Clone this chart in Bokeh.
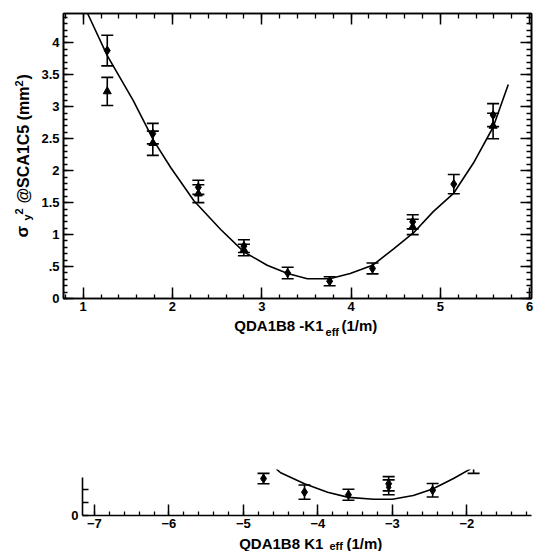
import math
from bokeh.plotting import figure
from bokeh.layouts import column, row
from bokeh.models import (LinearAxis, FixedTicker, SingleIntervalTicker,
                          Range1d, ColumnDataSource, Spacer)
from bokeh.core.properties import value
from bokeh.embed import file_html
from bokeh.resources import INLINE

# ---------------- data: upper panel (QDA1B8 -K1eff) ----------------
top_x_set1 = [1.27, 1.78, 2.29, 2.80, 3.29, 3.76, 4.24, 4.69, 5.15, 5.59]
top_y_set1 = [3.88, 2.58, 1.74, 0.82, 0.40, 0.27, 0.47, 1.20, 1.79, 2.87]
top_err_set1 = [0.24, 0.16, 0.11, 0.10, 0.09, 0.07, 0.085, 0.11, 0.15, 0.18]

top_x_set2 = [1.27, 1.78, 2.29, 2.80, 4.69, 5.59]
top_y_set2 = [3.24, 2.43, 1.64, 0.76, 1.12, 2.70]
top_err_set2 = [0.22, 0.19, 0.14, 0.09, 0.12, 0.20]

top_fit_x = [1.05, 1.27, 1.56, 1.79, 1.98, 2.24, 2.54, 2.80, 3.06, 3.29, 3.51,
             3.76, 3.99, 4.24, 4.48, 4.70, 4.92, 5.15, 5.37, 5.59, 5.76]
top_fit_y = [4.46, 3.80, 3.10, 2.47, 2.05, 1.53, 1.08, 0.73, 0.52, 0.39, 0.31,
             0.31, 0.39, 0.52, 0.78, 1.03, 1.36, 1.65, 2.12, 2.68, 3.35]

top_y_ticks = [0, 0.5, 1, 1.5, 2, 2.5, 3, 3.5, 4]
top_y_tick_labels = ["0", ".5", "1", "1.5", "2", "2.5", "3", "3.5", "4"]

# ---------------- data: lower panel (QDA1B8 K1eff) ----------------
bot_x_set1 = [-4.73, -4.18, -3.59, -3.05, -2.46, -1.91]
bot_y_set1 = [0.57, 0.36, 0.32, 0.49, 0.39, 0.80]
bot_err_set1 = [0.08, 0.11, 0.085, 0.11, 0.105, 0.15]

bot_x_set2 = [-3.05]
bot_y_set2 = [0.435]
bot_err_set2 = [0.115]

bot_fit_x = [-4.56, -4.50, -4.18, -3.87, -3.59, -3.25, -3.00, -2.72, -2.46, -2.18, -1.95]
bot_fit_y = [0.72, 0.66, 0.49, 0.36, 0.28, 0.25, 0.25, 0.31, 0.41, 0.57, 0.72]

bot_y_ticks = [0, 0.2, 0.4]
bot_y_tick_labels = ["0", "", ""]

FONT = "Liberation Sans"


def style_axis(ax, labels=True, major=10, minor=4):
    ax.axis_line_width = 1.6
    ax.axis_line_color = "black"
    ax.major_tick_in = major
    ax.major_tick_out = 0
    ax.minor_tick_in = minor
    ax.minor_tick_out = 0
    ax.major_tick_line_width = 1.5
    ax.minor_tick_line_width = 1.3
    ax.major_tick_line_color = "black"
    ax.minor_tick_line_color = "black"
    ax.major_label_text_font = FONT
    ax.major_label_text_font_style = "bold"
    if labels:
        ax.major_label_text_color = "black"
        ax.major_label_text_font_size = "13px"
        ax.major_label_standoff = 3
    else:
        ax.major_label_text_color = None
        ax.major_label_text_font_size = "0px"
        ax.major_label_standoff = 0


def add_points(p, xs, ys, errs, marker, size):
    src = ColumnDataSource(dict(
        x=xs, y=ys,
        lo=[y - e for y, e in zip(ys, errs)],
        hi=[y + e for y, e in zip(ys, errs)],
    ))
    p.segment(x0="x", y0="lo", x1="x", y1="hi", source=src,
              line_color="black", line_width=1.6)
    p.scatter(x="x", y="lo", source=src, marker="dash", size=12,
              line_color="black", line_width=1.6)
    p.scatter(x="x", y="hi", source=src, marker="dash", size=12,
              line_color="black", line_width=1.6)
    p.scatter(x="x", y="y", source=src, marker=marker, size=size,
              fill_color="black", line_color="black")


def txt(p, x, y, text, size, angle=0.0, align="left"):
    r = p.text(x=[x], y=[y], text=[text], angle=angle,
               text_font=value(FONT), text_font_style="bold",
               text_font_size=value(size), text_color="black",
               text_align=align, text_baseline="alphabetic")
    r.level = "overlay"
    return r


# ---------------- upper figure ----------------
p1 = figure(width=538, height=338, x_range=Range1d(0.78, 6.02),
            y_range=Range1d(0, 4.46), output_backend="svg",
            toolbar_location=None, min_border_left=63, min_border_right=7,
            min_border_top=13, min_border_bottom=40)
p1.grid.visible = False
p1.outline_line_color = "black"
p1.outline_line_width = 1.6
p1.background_fill_color = "white"
p1.border_fill_color = "white"

xt1 = SingleIntervalTicker(interval=1, num_minor_ticks=5)
yminor = [i / 10 for i in range(0, 45)]
yt1 = FixedTicker(ticks=top_y_ticks, minor_ticks=yminor)
ylab = dict(zip(top_y_ticks, top_y_tick_labels))

p1.xaxis.ticker = xt1
p1.yaxis.ticker = yt1
p1.yaxis.major_label_overrides = ylab
for ax in p1.xaxis:
    style_axis(ax, True, 11, 4)
for ax in p1.yaxis:
    style_axis(ax, True, 10, 4)
    ax.major_label_standoff = 4

top_ax = LinearAxis(ticker=xt1)
style_axis(top_ax, False, 11, 5)
p1.add_layout(top_ax, "above")
right_ax = LinearAxis(ticker=yt1)
style_axis(right_ax, False, 11, 5)
p1.add_layout(right_ax, "right")

p1.line(top_fit_x, top_fit_y, line_color="black", line_width=1.6)
add_points(p1, top_x_set1, top_y_set1, top_err_set1, "diamond", 9)
add_points(p1, top_x_set2, top_y_set2, top_err_set2, "triangle", 8)

# x-axis title (with subscript)
txt(p1, 3.691, -0.4225, "QDA1B8 -K1", "15px", align="right")
txt(p1, 3.714, -0.532, "eff", "11px")
txt(p1, 3.893, -0.4225, "(1/m)", "15px")
# y-axis title (rotated, with sub/superscripts)
R = math.pi / 2
txt(p1, 0.321, 0.955, "σ", "17px", angle=R)
txt(p1, 0.366, 1.221, "y", "11px", angle=R)
txt(p1, 0.287, 1.315, "2", "11px", angle=R)
txt(p1, 0.332, 1.487, "@SCA1C5 (mm", "16px", angle=R)
txt(p1, 0.287, 3.318, "2", "11px", angle=R)
txt(p1, 0.332, 3.427, ")", "16px", angle=R)

# ---------------- lower figure ----------------
p2 = figure(width=519, height=213, x_range=Range1d(-7.16, -1.133),
            y_range=Range1d(0, 0.71), output_backend="svg",
            toolbar_location=None, min_border_left=63, min_border_right=7,
            min_border_top=131, min_border_bottom=36)
p2.grid.visible = False
p2.outline_line_color = None
p2.background_fill_color = "white"
p2.border_fill_color = "white"

p2.xaxis.ticker = SingleIntervalTicker(interval=1, num_minor_ticks=5)
p2.yaxis.ticker = FixedTicker(ticks=bot_y_ticks)
p2.yaxis.major_label_overrides = dict(zip(bot_y_ticks, bot_y_tick_labels))
for ax in p2.xaxis:
    style_axis(ax, True, 11, 4)
for ax in p2.yaxis:
    style_axis(ax, True, 6, 3)
    ax.major_label_standoff = 4
    ax.bounds = (0, 0.58)

p2.line(bot_fit_x, bot_fit_y, line_color="black", line_width=1.6)
add_points(p2, bot_x_set1, bot_y_set1, bot_err_set1, "diamond", 9)
add_points(p2, bot_x_set2, bot_y_set2, bot_err_set2, "diamond", 7)

txt(p2, -3.871, -0.432, "QDA1B8  K1", "15px", align="right")
txt(p2, -3.845, -0.478, "eff", "11px")
txt(p2, -3.616, -0.432, "(1/m)", "15px")

layout = column(p1, row(Spacer(width=19, height=213), p2, spacing=0), spacing=0)
open("out.html", "w").write(file_html(layout, INLINE))
